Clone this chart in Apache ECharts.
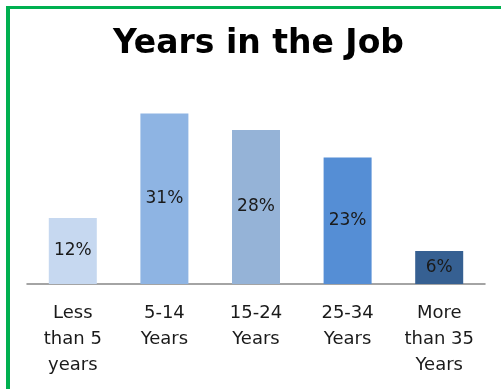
<!DOCTYPE html>
<html>
<head>
<meta charset="utf-8">
<script src="https://cdn.jsdelivr.net/npm/echarts@6/dist/echarts.min.js"></script>
<style>
html,body{margin:0;padding:0;background:#fff;}
#c{width:501px;height:389px;}
</style>
</head>
<body>
<div id="c"></div>
<script>
const categories = ["Less\nthan 5\nyears", "5-14\nYears", "15-24\nYears", "25-34\nYears", "More\nthan 35\nYears"];
const values = [12, 31, 28, 23, 6];
const barColors = ["#c6d8f0", "#8eb4e3", "#95b3d7", "#558ed5", "#366092"];
const titleText = "Years in the Job";

const chart = echarts.init(document.getElementById('c'), null, {renderer: 'canvas'});
chart.setOption({
  animation: false,
  backgroundColor: '#ffffff',
  title: {
    text: titleText,
    left: 108,
    top: 23,
    textStyle: {fontFamily: 'DejaVu Sans', fontWeight: 'bold', fontSize: 33, color: '#000'}
  },
  graphic: [
    {type: 'rect', shape: {x: 6, y: 6, width: 495, height: 3}, style: {fill: '#00b050'}, silent: true},
    {type: 'rect', shape: {x: 6, y: 6, width: 4, height: 383}, style: {fill: '#00b050'}, silent: true}
  ],
  grid: {left: 27, right: 16, top: 91.5, bottom: 105, containLabel: false},
  xAxis: {
    type: 'category',
    data: categories,
    axisLine: {lineStyle: {color: '#868686', width: 1.5}},
    axisTick: {show: false},
    axisLabel: {
      interval: 0,
      margin: 16,
      fontFamily: 'DejaVu Sans',
      fontSize: 18,
      lineHeight: 26,
      color: '#1a1a1a'
    }
  },
  yAxis: {type: 'value', min: 0, max: 35, show: false, splitLine: {show: false}},
  series: [{
    type: 'bar',
    data: values.map((v, i) => ({value: v, itemStyle: {color: barColors[i]}})),
    barWidth: 48,
    label: {
      show: true,
      position: 'inside',
      formatter: '{c}%',
      fontFamily: 'DejaVu Sans',
      fontSize: 17,
      color: '#1a1a1a'
    }
  }]
});
</script>
</body>
</html>
